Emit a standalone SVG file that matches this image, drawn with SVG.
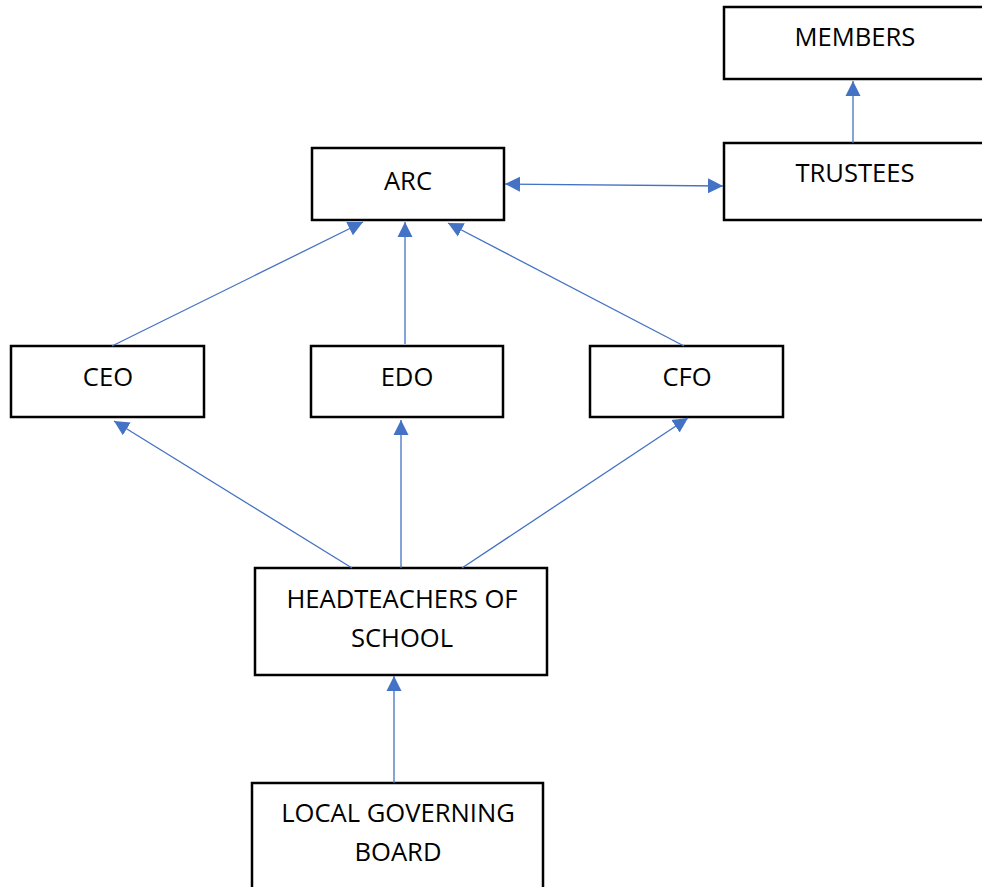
<svg xmlns="http://www.w3.org/2000/svg" width="982" height="887" viewBox="0 0 982 887">
<style>
.box{fill:#fff;stroke:#000;stroke-width:2.5}
.lbl{font-family:"Open Sans","Liberation Sans",sans-serif;font-size:25.6px;fill:#000;text-anchor:middle}
.con{stroke:#4472C4;stroke-width:1.3;fill:none;marker-end:url(#ah)}
</style>
<defs>
<marker id="ah" markerUnits="userSpaceOnUse" markerWidth="16" markerHeight="16" refX="15" refY="7.5" orient="auto-start-reverse" viewBox="0 0 16 15">
<path d="M0,0 L15,7.5 L0,15 z" fill="#4472C4"/>
</marker>
</defs>
<rect width="982" height="887" fill="#fff"/>
<g id="members"><rect class="box" x="724" y="7" width="270" height="72"/><text class="lbl" x="855" y="46">MEMBERS</text></g>
<g id="trustees"><rect class="box" x="724" y="143" width="270" height="77"/><text class="lbl" x="855" y="182">TRUSTEES</text></g>
<g id="arc"><rect class="box" x="312" y="148" width="192" height="72"/><text class="lbl" x="408" y="190">ARC</text></g>
<g id="ceo"><rect class="box" x="11" y="346" width="193" height="71"/><text class="lbl" x="108" y="386">CEO</text></g>
<g id="edo"><rect class="box" x="311" y="346" width="192" height="71"/><text class="lbl" x="407" y="386">EDO</text></g>
<g id="cfo"><rect class="box" x="590" y="346" width="193" height="71"/><text class="lbl" x="687" y="386">CFO</text></g>
<g id="headteachers"><rect class="box" x="255" y="568" width="292" height="107"/><text class="lbl" x="402" y="608">HEADTEACHERS OF</text><text class="lbl" x="402" y="647">SCHOOL</text></g>
<g id="lgb"><rect class="box" x="252" y="783" width="291" height="120"/><text class="lbl" x="398" y="822">LOCAL GOVERNING</text><text class="lbl" x="398" y="861">BOARD</text></g>
<g id="connectors">
<line class="con" x1="853" y1="143" x2="853" y2="81"/>
<line class="con" x1="505" y1="184" x2="723" y2="186" style="marker-start:url(#ah)"/>
<line class="con" x1="112" y1="346" x2="363" y2="222"/>
<line class="con" x1="405" y1="344" x2="405" y2="222"/>
<line class="con" x1="684" y1="346" x2="448" y2="223"/>
<line class="con" x1="352" y1="568" x2="114" y2="421"/>
<line class="con" x1="401" y1="568" x2="401" y2="420"/>
<line class="con" x1="462" y1="568" x2="688" y2="418"/>
<line class="con" x1="394" y1="783" x2="394" y2="676"/>
</g>
</svg>
